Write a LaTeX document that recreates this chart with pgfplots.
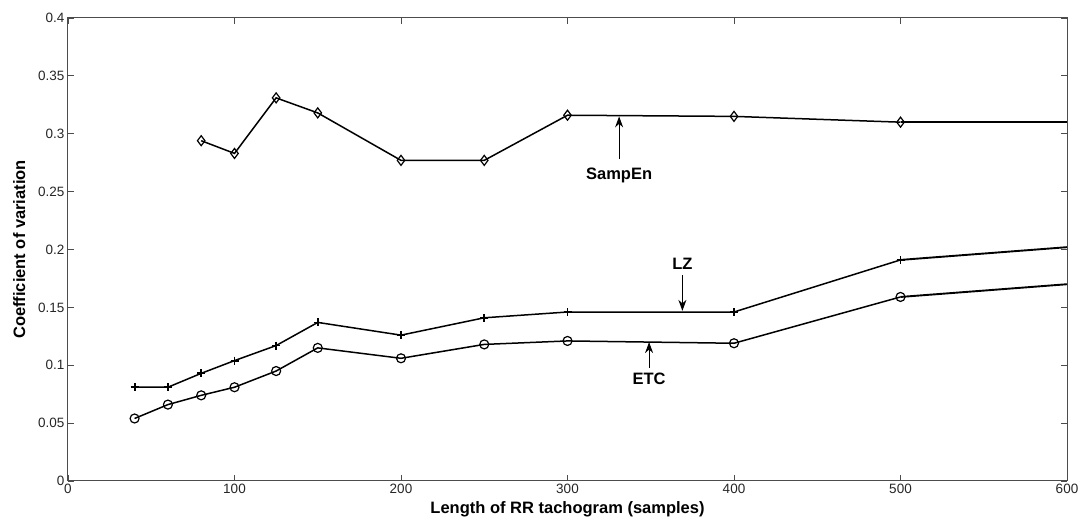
\documentclass[border=0pt]{standalone}
\usepackage{pgfplots}
\pgfplotsset{compat=1.18}
\usetikzlibrary{arrows.meta}
\usepackage{fontspec}
\setmainfont{Liberation Sans}
\begin{document}
\begin{tikzpicture}
\begin{axis}[
  name=ax,
  scale only axis,
  width=999pt, height=463pt,
  xmin=0, xmax=600, ymin=0, ymax=0.4,
  xtick={0,100,...,600},
  ytick={0,0.05,0.1,0.15,0.2,0.25,0.3,0.35,0.4},
  yticklabels={0,0.05,0.1,0.15,0.2,0.25,0.3,0.35,0.4},
  tick align=inside,
  major tick length=6pt,
  axis line style={draw=black!70, line width=1pt},
  tick style={black!70, line width=0.9pt},
  ticklabel style={font=\fontsize{13.5}{14}\selectfont, text=black!85},
  /pgf/number format/assume math mode=true,
  xlabel={\fontsize{16.5}{18}\selectfont\bfseries Length of RR tachogram (samples)},
  ylabel={\fontsize{16.5}{18}\selectfont\bfseries Coefficient of variation},
  xlabel style={yshift=-1pt},
  ylabel style={yshift=6pt},
  clip=true,
]
% SampEn
\addplot[black, line width=1.5pt, mark=diamond, mark size=5pt, mark options={solid, line width=1.2pt, fill=white}]
  coordinates {(80,0.294) (100,0.283) (125,0.331) (150,0.318) (200,0.277) (250,0.277) (300,0.316) (400,0.315) (500,0.310)};
\addplot[black, line width=1.9pt] coordinates {(500,0.310) (600,0.310)};
% LZ
\addplot[black, line width=1.5pt, mark=+, mark size=4pt, mark options={solid, line width=1.8pt}]
  coordinates {(40,0.081) (60,0.081) (80,0.093) (100,0.104) (125,0.117) (150,0.137) (200,0.126) (250,0.141) (300,0.146) (400,0.146) (500,0.191)};
\addplot[black, line width=1.9pt] coordinates {(500,0.191) (600,0.202)};
% ETC
\addplot[black, line width=1.5pt, mark=o, mark size=4.5pt, mark options={solid, line width=1.2pt, fill=white}]
  coordinates {(40,0.054) (60,0.066) (80,0.074) (100,0.081) (125,0.095) (150,0.115) (200,0.106) (250,0.118) (300,0.121) (400,0.119) (500,0.159)};
\addplot[black, line width=1.9pt] coordinates {(500,0.159) (600,0.170)};
% annotations
\draw[-{Stealth[length=11pt,width=8pt]}, line width=1pt] (axis cs:331,0.278) -- (axis cs:331,0.315);
\node[font=\fontsize{16.5}{18}\selectfont\bfseries] at (axis cs:331,0.264) {SampEn};
\draw[-{Stealth[length=11pt,width=8pt]}, line width=1pt] (axis cs:369,0.178) -- (axis cs:369,0.147);
\node[font=\fontsize{16.5}{18}\selectfont\bfseries] at (axis cs:369,0.188) {LZ};
\draw[-{Stealth[length=11pt,width=8pt]}, line width=1pt] (axis cs:349,0.098) -- (axis cs:349,0.120);
\node[font=\fontsize{16.5}{18}\selectfont\bfseries] at (axis cs:349,0.088) {ETC};
\end{axis}
\pgfresetboundingbox
\path ([shift={(-68pt,-40pt)}]ax.south west) rectangle ([shift={(16pt,18pt)}]ax.north east);
\end{tikzpicture}
\end{document}
